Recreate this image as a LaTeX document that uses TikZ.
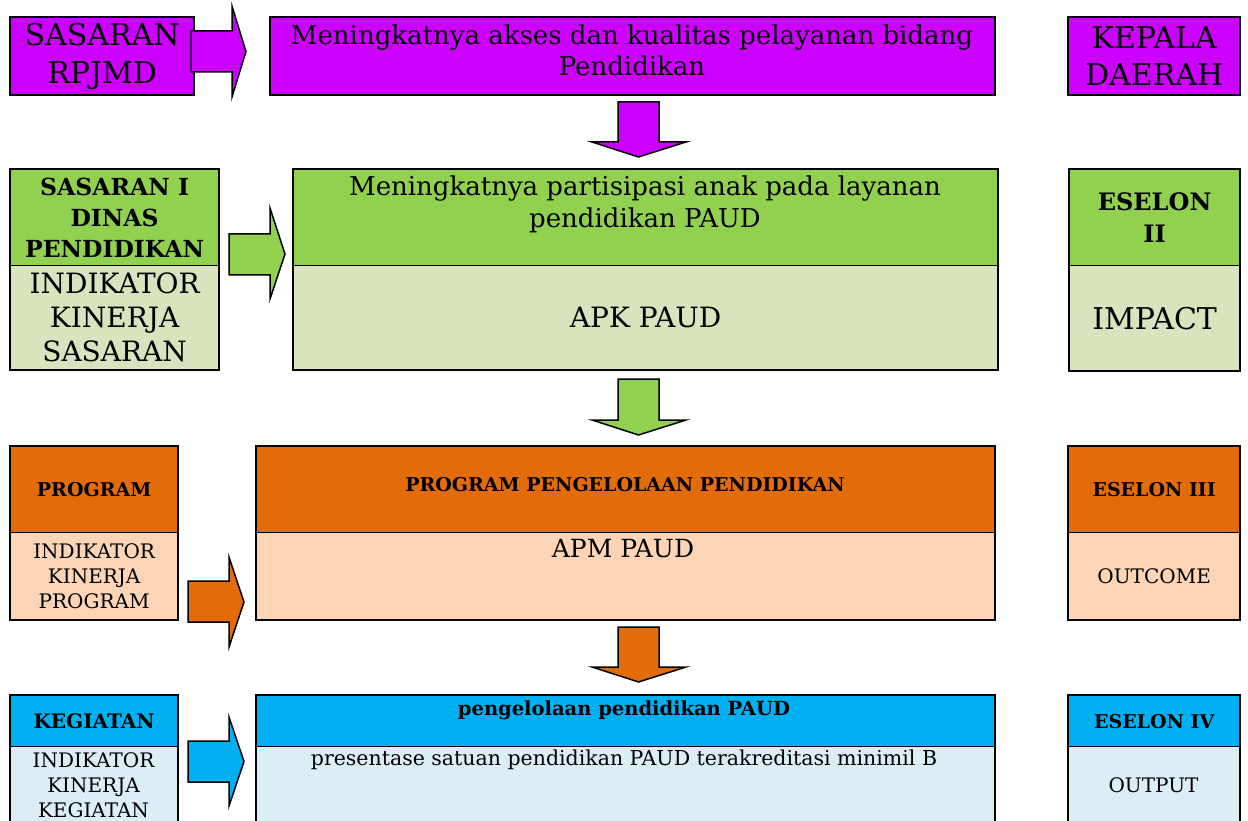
\documentclass[tikz,border=0pt]{standalone}
\usepackage{fontspec}
\setmainfont{DejaVu Serif}
\definecolor{mag}{HTML}{CC00FF}
\definecolor{grn}{HTML}{92D050}
\definecolor{lgrn}{HTML}{D7E4BD}
\definecolor{org}{HTML}{E36C0A}
\definecolor{lorg}{HTML}{FBD5B5}
\definecolor{blu}{HTML}{00B0F0}
\definecolor{lblu}{HTML}{DBEEF4}
\newcommand\fsz[2]{\fontsize{#1}{#2}\selectfont}
\begin{document}
\begin{tikzpicture}[x=1pt,y=-1pt,
  cell/.style={draw=black,line width=1.3pt,inner sep=0pt,anchor=north west,align=center},
  frm/.style={draw=black,line width=2pt},
  txt/.style={inner sep=0pt,align=center},
  barrow/.style={draw=black,line width=1.5pt,line join=miter}]
\useasboundingbox (0,0) rectangle (1248,821);
\clip (0,0) rectangle (1248,821);
\fill[white] (0,0) rectangle (1248,821);

% ---------- Row 1
\node[cell,fill=mag,minimum width=183pt,minimum height=77pt,font=\fsz{30}{38}] (r1l) at (10,17) {SASARAN\\RPJMD};
\node[cell,fill=mag,minimum width=724pt,minimum height=77pt] (r1m) at (270,17) {};
\node[txt,anchor=north,font=\fsz{26}{31}] (r1mt) at (632,24.5) {Meningkatnya akses dan kualitas pelayanan bidang\\Pendidikan};
\node[cell,fill=mag,minimum width=171pt,minimum height=77pt,font=\fsz{30}{37}] (r1r) at (1068,17) {KEPALA\\DAERAH};
\draw[frm] (r1l.north west) rectangle (r1l.south east);
\draw[frm] (r1m.north west) rectangle (r1m.south east);
\draw[frm] (r1r.north west) rectangle (r1r.south east);
\draw[barrow,fill=mag] (191,31) -- (232,31) -- (232,6) -- (246,51.5) -- (232,97) -- (232,72) -- (191,72) -- cycle;
\draw[barrow,fill=mag] (618,102) -- (659,102) -- (659,142) -- (686,142) -- (638.5,157) -- (592,142) -- (618,142) -- cycle;

% ---------- Row 2
\node[cell,fill=grn,minimum width=208pt,minimum height=96pt,font=\bfseries\fsz{23.5}{31}] (r2lh) at (10,169) {SASARAN I\\DINAS\\PENDIDIKAN};
\node[cell,fill=lgrn,minimum width=208pt,minimum height=104pt,font=\fsz{28}{34}] (r2lb) at (10,265) {INDIKATOR\\KINERJA\\SASARAN};
\node[cell,fill=grn,minimum width=704pt,minimum height=96pt] (r2mh) at (293,169) {};
\node[txt,anchor=north,font=\fsz{26}{32}] (r2mt) at (645,176) {Meningkatnya partisipasi anak pada layanan\\pendidikan PAUD};
\node[cell,fill=lgrn,minimum width=704pt,minimum height=104pt,font=\fsz{28}{32}] (r2mb) at (293,265) {APK PAUD};
\node[cell,fill=grn,minimum width=170pt,minimum height=96pt,font=\bfseries\fsz{24}{32}] (r2rh) at (1069,169) {ESELON\\II};
\node[cell,fill=lgrn,minimum width=170pt,minimum height=105pt,font=\fsz{30}{32}] (r2rb) at (1069,265) {IMPACT};
\draw[frm] (r2lh.north west) rectangle (r2lb.south east);
\draw[frm] (r2mh.north west) rectangle (r2mb.south east);
\draw[frm] (r2rh.north west) rectangle (r2rb.south east);
\draw[barrow,fill=grn] (229,234) -- (270,234) -- (270,208) -- (285,254) -- (270,299) -- (270,275) -- (229,275) -- cycle;
\draw[barrow,fill=grn] (618,379) -- (659,379) -- (659,420) -- (686,420) -- (638.5,435) -- (592,420) -- (618,420) -- cycle;

% ---------- Row 3
\node[cell,fill=org,minimum width=167pt,minimum height=86pt,font=\bfseries\fsz{19}{22}] (r3lh) at (10,446) {PROGRAM};
\node[cell,fill=lorg,minimum width=167pt,minimum height=87pt,font=\fsz{20}{25}] (r3lb) at (10,532) {INDIKATOR\\KINERJA\\PROGRAM};
\node[cell,fill=org,minimum width=738pt,minimum height=86pt] (r3mh) at (256,446) {};
\node[txt,font=\bfseries\fsz{19}{22}] (r3mt) at (625,485) {PROGRAM PENGELOLAAN PENDIDIKAN};
\node[cell,fill=lorg,minimum width=738pt,minimum height=87pt] (r3mb) at (256,532) {};
\node[txt,font=\fsz{25}{28}] (r3mbt) at (623,549) {APM PAUD};
\node[cell,fill=org,minimum width=171pt,minimum height=86pt,font=\bfseries\fsz{19}{22}] (r3rh) at (1068,446) {ESELON III};
\node[cell,fill=lorg,minimum width=171pt,minimum height=87pt,font=\fsz{20}{22}] (r3rb) at (1068,532) {OUTCOME};
\draw[frm] (r3lh.north west) rectangle (r3lb.south east);
\draw[frm] (r3mh.north west) rectangle (r3mb.south east);
\draw[frm] (r3rh.north west) rectangle (r3rb.south east);
\draw[barrow,fill=org] (188,581) -- (229,581) -- (229,557) -- (244,602) -- (229,647) -- (229,622) -- (188,622) -- cycle;
\draw[barrow,fill=org] (618,627) -- (659,627) -- (659,667) -- (686,667) -- (638.5,682) -- (592,667) -- (618,667) -- cycle;

% ---------- Row 4
\node[cell,fill=blu,minimum width=167pt,minimum height=51pt,font=\bfseries\fsz{20}{22}] (r4lh) at (10,695) {KEGIATAN};
\node[cell,fill=lblu,minimum width=167pt,minimum height=110pt] (r4lb) at (10,746) {};
\node[txt,font=\fsz{20}{25}] (r4lbt) at (93.5,785) {INDIKATOR\\KINERJA\\KEGIATAN};
\node[cell,fill=blu,minimum width=738pt,minimum height=51pt] (r4mh) at (256,695) {};
\node[txt,font=\bfseries\fsz{19.5}{22}] (r4mt) at (624,710) {pengelolaan pendidikan PAUD};
\node[cell,fill=lblu,minimum width=738pt,minimum height=110pt] (r4mb) at (256,746) {};
\node[txt,font=\fsz{20.5}{22}] (r4mbt) at (624,760) {presentase satuan pendidikan PAUD terakreditasi minimil B};
\node[cell,fill=blu,minimum width=171pt,minimum height=51pt,font=\bfseries\fsz{19}{22}] (r4rh) at (1068,695) {ESELON IV};
\node[cell,fill=lblu,minimum width=171pt,minimum height=110pt] (r4rb) at (1068,746) {};
\node[txt,font=\fsz{20}{22}] (r4rbt) at (1153.5,785) {OUTPUT};
\draw[frm] (r4lh.north west) rectangle (r4lb.south east);
\draw[frm] (r4mh.north west) rectangle (r4mb.south east);
\draw[frm] (r4rh.north west) rectangle (r4rb.south east);
\draw[barrow,fill=blu] (188,741) -- (229,741) -- (229,717) -- (244,761.5) -- (229,806) -- (229,782) -- (188,782) -- cycle;
\end{tikzpicture}
\end{document}
